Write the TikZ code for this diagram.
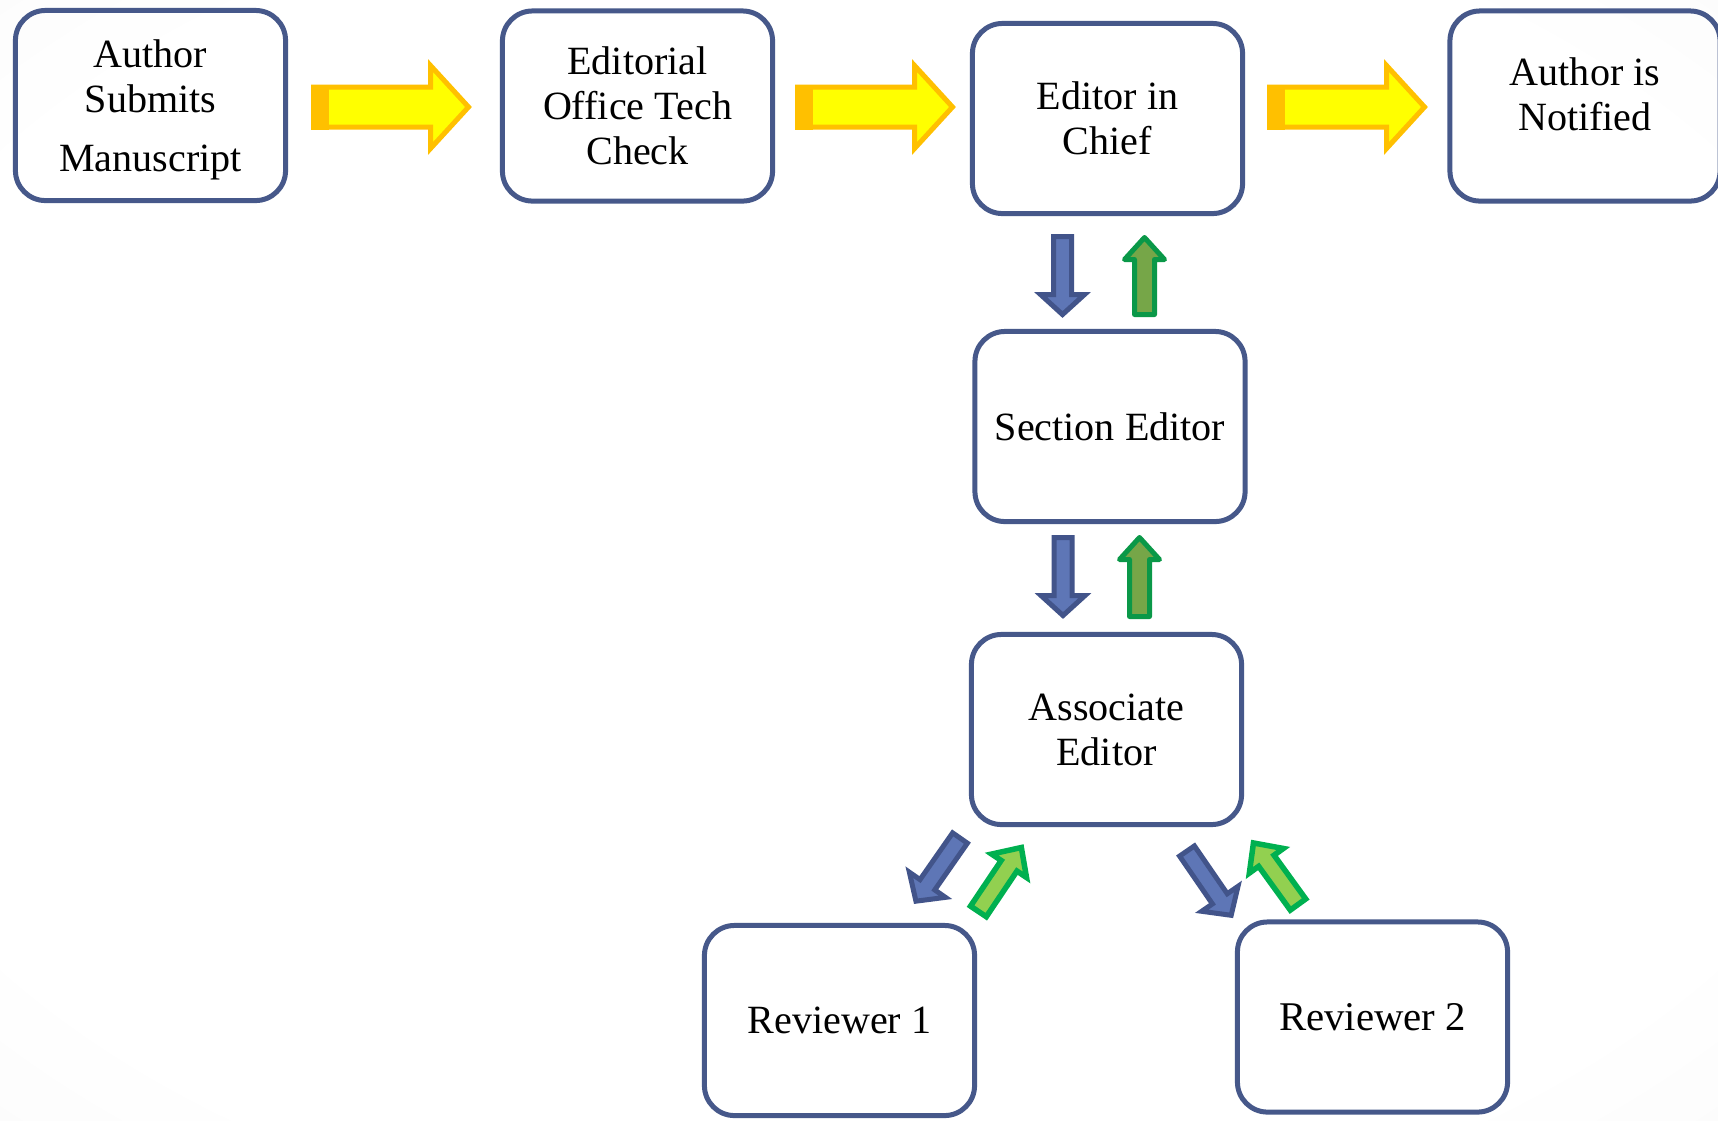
\documentclass[tikz,border=0pt]{standalone}
\usepackage{fontspec}
\setmainfont{Liberation Serif}
\usepackage{tikz}
\usetikzlibrary{positioning}

\definecolor{boxline}{RGB}{70,88,138}
\definecolor{arrowyellow}{RGB}{255,255,0}
\definecolor{arroworange}{RGB}{255,192,0}
\definecolor{bluefill}{RGB}{94,118,182}
\definecolor{blueline}{RGB}{66,84,138}
\definecolor{olivefill}{RGB}{118,166,72}
\definecolor{oliveline}{RGB}{10,152,72}
\definecolor{limefill}{RGB}{146,208,80}
\definecolor{limeline}{RGB}{0,176,80}
\definecolor{bgblue}{RGB}{214,224,241}

\pgfdeclareradialshading{pagebg}{\pgfpoint{0bp}{0bp}}{color(0bp)=(white); color(30bp)=(white); color(50bp)=(black!4); color(60bp)=(black!5); color(71bp)=(bgblue)}

\tikzset{
  stage/.style={draw=boxline,line width=0.05cm,rounded corners=0.3cm,minimum width=2.7cm,minimum height=1.9cm,inner sep=0pt,align=center,font=\fontsize{11.4}{12.8}\selectfont},
  yellowarrow/.style={draw=arroworange,fill=arrowyellow,line width=0.05cm},
  bluearrow/.style={draw=blueline,fill=bluefill,line width=0.05cm},
  olivearrow/.style={draw=oliveline,fill=olivefill,line width=0.05cm,line join=round},
  limearrow/.style={draw=limeline,fill=limefill,line width=0.055cm}
}

\newcommand{\blockarrow}[7]{%
  \draw[#1,shift={#2},rotate=#3] (0,-#6) -- (#4-#5,-#6) -- (#4-#5,-#7) -- (#4,0) -- (#4-#5,#7) -- (#4-#5,#6) -- (0,#6) -- cycle;}

\begin{document}
\begin{tikzpicture}[x=0.01cm,y=-0.01cm]
  \fill[shading=pagebg] (0,0) rectangle (1718,1120);
  \useasboundingbox (0,0) rectangle (1718,1120);

  \node[stage] (auth) at (150.5,105.5) {};
  \node[align=center,font=\fontsize{11.4}{12.8}\selectfont] (authtext) at (150.5,110) {Author\\Submits\\[4pt]Manuscript};
  \node[stage] (tech) at (637.5,106) {Editorial\\Office Tech\\Check};
  \node[stage] (eic) at (1107.5,118.5) {Editor in\\Chief};
  \node[stage] (notify) at (1585,106) {};
  \node[align=center,font=\fontsize{11.4}{12.8}\selectfont] (notifytext) at (1585,94) {Author is\\Notified};
  \node[stage] (sec) at (1110,426.5) {Section Editor};
  \node[stage] (assoc) at (1106.5,729.5) {Associate\\Editor};
  \node[stage] (rev1) at (839.5,1020.5) {Reviewer 1};
  \node[stage,font=\fontsize{11.6}{13}\selectfont] (rev2) at (1372.5,1017) {Reviewer 2};

  \foreach \tx in {311,795,1267}{
    \blockarrow{yellowarrow}{(\tx+2.5,107)}{0}{155}{38}{20}{41.5}
    \fill[arroworange] (\tx,84.5) rectangle (\tx+18,129.5);
  }

  \blockarrow{bluearrow}{(1062.5,236.5)}{-90}{78}{20}{9}{22}
  \blockarrow{olivearrow}{(1144.5,314.5)}{90}{77}{22}{10}{20}
  \blockarrow{bluearrow}{(1063,537.5)}{-90}{78}{20}{9}{22}
  \blockarrow{olivearrow}{(1139.5,616.5)}{90}{79}{22}{10}{20}

  \blockarrow{bluearrow}{(960,838)}{-124.9}{77}{20}{9}{22}
  \blockarrow{limearrow}{(978.4,911.4)}{56.1}{77}{22}{9.5}{21}
  \blockarrow{bluearrow}{(1187,851)}{-55.5}{78}{20}{9}{22}
  \blockarrow{limearrow}{(1298,904.5)}{125.9}{76}{22}{9.5}{21}
\end{tikzpicture}
\end{document}
